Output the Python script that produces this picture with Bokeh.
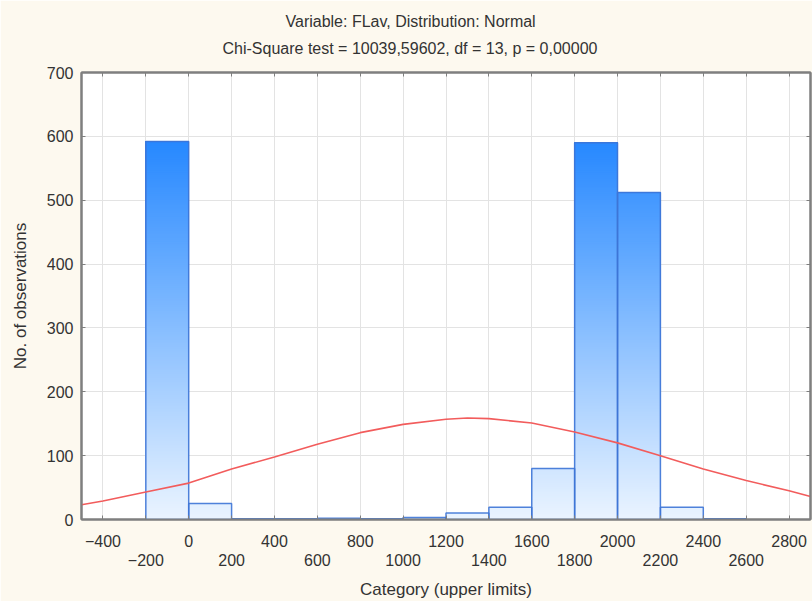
from bokeh.plotting import figure
from bokeh.models import (FixedTicker, LinearAxis, Title, ColumnDataSource,
                          Range1d)
from bokeh.embed import file_html
from bokeh.resources import INLINE

# ---------------- data ----------------
bin_lower = [-200, 0, 200, 400, 600, 800, 1000, 1200, 1400, 1600, 1800, 2000, 2200, 2400]
bin_upper = [0, 200, 400, 600, 800, 1000, 1200, 1400, 1600, 1800, 2000, 2200, 2400, 2600]
counts = [592, 25, 1, 1, 2, 1, 3, 10, 19, 80, 590, 512, 19, 1]

curve_x = [-500, -400, -200, 0, 200, 400, 600, 800, 1000, 1200, 1300, 1400,
           1600, 1800, 2000, 2200, 2400, 2600, 2800, 2900]
curve_y = [23, 29, 43, 57, 79, 98, 118, 136, 149, 157, 159, 158,
           151, 137, 120, 100, 79, 61, 45, 36]

x_ticks_row1 = [-400, 0, 400, 800, 1200, 1600, 2000, 2400, 2800]
x_ticks_row2 = [-200, 200, 600, 1000, 1400, 1800, 2200, 2600]
y_ticks = [0, 100, 200, 300, 400, 500, 600, 700]

title_1 = "Variable: FLav, Distribution: Normal"
title_2 = "Chi-Square test = 10039,59602, df = 13, p = 0,00000"
x_label = "Category (upper limits)"
y_label = "No. of observations"

FONT = "Liberation Sans"
TXT = "#333333"
FRAME = "#7F7F7F"

p = figure(width=812, height=601, x_range=Range1d(-500, 2900),
           y_range=Range1d(0, 700), output_backend="svg",
           toolbar_location=None, x_axis_location=None, y_axis_location=None,
           min_border_left=81, min_border_right=2, min_border_top=72,
           min_border_bottom=82, title=title_1)
p.background_fill_color = "white"
p.border_fill_color = "#FDF9EF"
p.outline_line_color = FRAME
p.outline_line_width = 2

p.title.align = "left"
p.title.offset = 204
p.title.text_font = FONT
p.title.text_font_size = "16px"
p.title.text_font_style = "normal"
p.title.text_color = TXT
p.title.standoff = -16

t2 = Title(text=title_2, align="left", offset=141, text_font=FONT,
           text_font_size="16px", text_font_style="normal", text_color=TXT,
           standoff=32)

all_x = sorted(x_ticks_row1 + x_ticks_row2)


def style(ax):
    ax.major_label_text_font = FONT
    ax.major_label_text_font_size = "16px"
    ax.major_label_text_color = TXT
    ax.axis_label_text_font = FONT
    ax.axis_label_text_font_size = "17px"
    ax.axis_label_text_font_style = "normal"
    ax.axis_label_text_color = TXT
    ax.major_tick_in = 4
    ax.major_tick_out = 0
    ax.minor_tick_in = 4
    ax.minor_tick_out = 0
    ax.major_tick_line_color = FRAME
    ax.minor_tick_line_color = FRAME
    ax.axis_line_color = FRAME
    ax.axis_line_width = 2


# bottom: first label row with all tick marks (row-2 positions as minor marks)
ax_b1 = LinearAxis(ticker=FixedTicker(ticks=x_ticks_row1, minor_ticks=x_ticks_row2))
# bottom: second label row, no marks
ax_b2 = LinearAxis(ticker=FixedTicker(ticks=x_ticks_row2), axis_label=x_label)
ax_l = LinearAxis(ticker=FixedTicker(ticks=y_ticks), axis_label=y_label)
# mirrored tick marks on top and right (minor marks only: no labels)
ax_t = LinearAxis(ticker=FixedTicker(ticks=[], minor_ticks=all_x))
ax_r = LinearAxis(ticker=FixedTicker(ticks=[], minor_ticks=y_ticks))

for ax in (ax_b1, ax_b2, ax_l, ax_t, ax_r):
    style(ax)

ax_b1.major_label_standoff = 15
ax_b2.major_label_standoff = 4
ax_b2.axis_line_color = None
ax_b2.major_tick_line_color = None
ax_b2.minor_tick_line_color = None
ax_b2.axis_label_standoff = 11
ax_l.major_label_standoff = 8
ax_l.axis_label_standoff = 14
for ax in (ax_t, ax_r):
    ax.major_label_standoff = 0

p.add_layout(ax_b1, "below")
p.add_layout(ax_b2, "below")
p.add_layout(ax_l, "left")
p.add_layout(ax_r, "right")
p.add_layout(ax_t, "above")
p.add_layout(t2, "above")

p.xgrid.ticker = FixedTicker(ticks=all_x)
p.ygrid.ticker = FixedTicker(ticks=y_ticks)
p.xgrid.grid_line_color = "#E3E3E3"
p.ygrid.grid_line_color = "#E3E3E3"

# gradient bars: overlapping slices coloured by absolute height
top_c = (38, 136, 255)
bot_c = (234, 244, 255)
ymax = 592.0
step = 3.0
sl, sr, sb, st, sc = [], [], [], [], []
for lo, hi, c in zip(bin_lower, bin_upper, counts):
    y0 = 0.0
    while y0 < c:
        y1 = min(c, y0 + step)
        t = min(1.0, ((y0 + y1) / 2) / ymax)
        col = tuple(int(round(b + (a - b) * t)) for a, b in zip(top_c, bot_c))
        sl.append(lo); sr.append(hi); sb.append(y0); st.append(c)
        sc.append("#%02x%02x%02x" % col)
        y0 = y1
p.quad(left="l", right="r", bottom="b", top="t", fill_color="c",
       line_color=None,
       source=ColumnDataSource(dict(l=sl, r=sr, b=sb, t=st, c=sc)))

p.quad(left=bin_lower, right=bin_upper, bottom=0, top=counts,
       fill_color=None, line_color="#3D74D6", line_width=1.5, line_alpha=0.9)

p.line(curve_x, curve_y, line_color="#F25C5C", line_width=1.6)

open("out.html", "w").write(file_html(p, INLINE))
